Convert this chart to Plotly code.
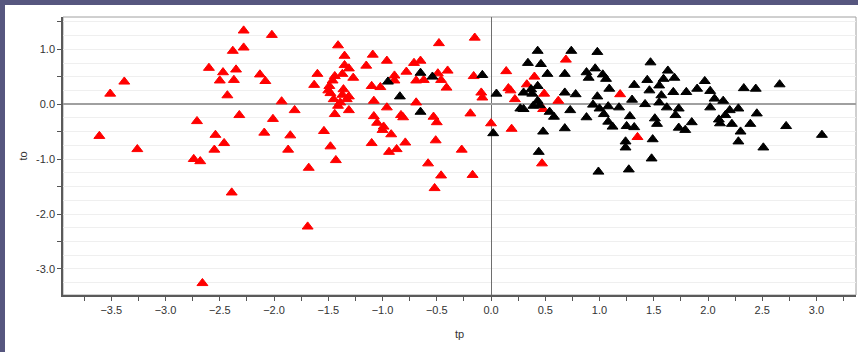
import plotly.graph_objects as go

# ---- data ----
red_x = [-3.61, -3.51, -3.38, -3.26, -2.71, -2.74, -2.68, -2.60, -2.47, -2.50,
         -2.38, -2.28, -2.28, -2.35, -2.37, -2.43, -2.32, -2.54, -2.55, -2.46,
         -2.13, -2.08, -2.02, -1.93, -1.81, -2.01, -2.09, -1.85, -1.87, -2.39,
         -2.66, -1.68, -1.69, -1.54, -1.48, -1.43, -1.10, -1.00, -0.92, -0.94,
         -0.87, -0.79, -0.58, -0.51, -0.46, -0.52, -0.27, -0.17, -1.41, -0.48,
         -1.35, -1.09, -0.96, -1.15, -1.35, -1.31, -0.71, -0.65, -1.60, -1.63,
         -1.44, -1.37, -1.27, -1.46, -1.49, -1.50, -1.48, -1.36, -1.37, -1.31,
         -1.45, -1.39, -1.33, -1.41, -1.31, -1.44, -1.10, -1.02, -0.89, -0.89,
         -0.78, -0.69, -0.62, -0.49, -0.40, -0.46, -0.41, -1.08, -0.96, -0.69,
         -1.08, -1.05, -0.99, -0.83, -0.81, -0.53, -0.50, -0.15, -0.16, -0.09,
         -0.08, -0.19, 0.00, 0.19, 0.14, 0.69, 0.16, 0.18, 0.22, 0.33,
         0.40, 0.49, 0.48, 0.62, 1.19, 1.35, 0.47]
red_y = [-0.58, 0.19, 0.41, -0.82, -0.31, -1.00, -1.04, 0.66, 0.58, 0.43,
         0.97, 1.34, 1.03, 0.63, 0.44, 0.16, -0.20, -0.56, -0.83, -0.71,
         0.54, 0.42, 1.26, 0.05, -0.11, -0.27, -0.52, -0.57, -0.83, -1.61,
         -3.26, -1.16, -2.23, -0.49, -0.77, -1.02, -0.71, -0.47, -0.55, -0.87,
         -0.82, -0.70, -1.08, -0.66, -1.30, -1.53, -0.83, -1.29, 1.07, 1.11,
         0.88, 0.90, 0.79, 0.70, 0.71, 0.65, 0.75, 0.79, 0.55, 0.35,
         0.51, 0.55, 0.48, 0.43, 0.33, 0.25, 0.20, 0.27, 0.17, 0.14,
         0.09, 0.03, 0.09, -0.03, -0.11, -0.18, 0.33, 0.31, 0.52, 0.43,
         0.59, 0.43, 0.44, 0.56, 0.61, 0.44, 0.30, 0.06, -0.06, 0.03,
         -0.22, -0.34, -0.41, -0.20, -0.24, -0.23, -0.33, 1.21, 0.51, 0.21,
         0.12, -0.17, -0.35, -0.45, 0.60, 0.81, 0.29, 0.25, 0.09, 0.36,
         0.50, 0.19, -0.09, 0.06, 0.18, -0.60, -1.08]

black_x = [-0.95, -0.65, -0.54, -0.84, -0.65, -0.08, 0.05, 0.02, 0.43, 0.74,
           0.98, 0.34, 0.46, 0.52, 0.68, 0.88, 0.96, 0.90, 1.03, 1.06,
           1.47, 0.30, 0.37, 0.38, 0.43, 0.68, 0.78, 1.09, 1.32, 1.44,
           1.46, 0.98, 1.30, 1.42, 0.27, 0.30, 0.39, 0.43, 0.45, 0.54,
           0.58, 0.73, 0.94, 1.00, 1.04, 1.08, 1.18, 0.88, 1.08, 1.12,
           1.28, 1.25, 1.32, 0.68, 0.48, 1.51, 1.63, 1.69, 1.59, 1.97,
           1.90, 2.02, 2.06, 2.14, 2.33, 2.44, 2.66, 1.55, 1.68, 1.80,
           1.57, 1.55, 1.62, 1.73, 2.02, 2.20, 2.28, 1.70, 2.16, 2.45,
           1.53, 2.10, 2.11, 2.22, 2.39, 1.85, 1.73, 1.79, 2.30, 2.72,
           3.05, 1.24, 1.24, 1.49, 2.28, 2.51, 1.48, 0.99, 1.27, 0.44]
black_y = [0.41, 0.57, 0.50, 0.14, -0.14, 0.53, 0.19, -0.53, 0.97, 0.97,
           0.95, 0.75, 0.73, 0.55, 0.55, 0.58, 0.65, 0.48, 0.54, 0.46,
           0.76, 0.21, 0.27, 0.19, 0.33, 0.21, 0.18, 0.28, 0.35, 0.44,
           0.25, 0.14, 0.08, 0.00, -0.08, -0.09, -0.03, 0.06, -0.02, -0.14,
           -0.23, -0.11, -0.01, -0.08, -0.18, -0.04, -0.06, -0.24, -0.32, -0.41,
           -0.22, -0.40, -0.42, -0.44, -0.50, -0.26, 0.61, 0.48, 0.46, 0.42,
           0.28, 0.24, 0.10, 0.06, 0.29, 0.28, 0.36, 0.34, 0.22, 0.22,
           0.16, 0.03, -0.06, -0.08, -0.06, -0.11, -0.08, -0.20, -0.20, -0.17,
           -0.36, -0.28, -0.35, -0.36, -0.36, -0.33, -0.43, -0.47, -0.50, -0.40,
           -0.56, -0.68, -0.79, -0.64, -0.68, -0.79, -0.99, -1.23, -1.19, -0.87]

y_tickvals = [-3.0, -2.5, -2.0, -1.5, -1.0, -0.5, 0.0, 0.5, 1.0, 1.5]
y_ticktext = ["-3.0", "", "-2.0", "", "-1.0", "", "0.0", "", "1.0", ""]

x_title = "tp"
y_title = "to"

# ---- figure ----
W, H = 858, 352
L, R, T, B = 63, 2, 17, 57
pw, ph = W - L - R, H - T - B

font = dict(family="Liberation Sans, Arial, sans-serif", size=11, color="#333333")

fig = go.Figure()
fig.add_trace(go.Scatter(
    x=red_x, y=red_y, mode="markers", showlegend=False, hoverinfo="x+y",
    marker=dict(symbol="triangle-up", size=9.5, color="#ff0000",
                line=dict(width=1, color="#ff0000"))))
fig.add_trace(go.Scatter(
    x=black_x, y=black_y, mode="markers", showlegend=False, hoverinfo="x+y",
    marker=dict(symbol="triangle-up", size=9.5, color="#000000",
                line=dict(width=1, color="#000000"))))

fig.update_layout(
    width=W, height=H,
    margin=dict(l=L, r=R, t=T, b=B, pad=0),
    paper_bgcolor="white", plot_bgcolor="white",
    font=font,
    xaxis=dict(
        range=[-3.945, 3.364], tickmode="linear", tick0=0, dtick=0.5,
        tickformat=".1f", ticks="outside", ticklen=4, tickwidth=1, tickcolor="#555555",
        minor=dict(tickmode="linear", tick0=0, dtick=0.25, ticks="outside",
                   ticklen=4, tickwidth=1, tickcolor="#555555", showgrid=False),
        showgrid=False, showline=True, linecolor="#5a5a5a", linewidth=1.5,
        zeroline=True, zerolinecolor="#6e6e6e", zerolinewidth=1,
        title=dict(text=x_title, standoff=15, font=font),
        fixedrange=True),
    yaxis=dict(
        range=[-3.475, 1.588], tickmode="array", tickvals=y_tickvals, ticktext=y_ticktext,
        ticks="outside", ticklen=4, tickwidth=1, tickcolor="#555555",
        showgrid=True, gridcolor="#efefef", gridwidth=1,
        minor=dict(tickmode="linear", tick0=0, dtick=0.25, ticks="",
                   showgrid=True, gridcolor="#efefef", gridwidth=1),
        showline=True, linecolor="#5a5a5a", linewidth=1.5,
        zeroline=True, zerolinecolor="#a0a0a0", zerolinewidth=1.5,
        title=dict(text=y_title, standoff=6, font=font),
        fixedrange=True),
    shapes=[
        # light frame on top / right
        dict(type="rect", xref="paper", yref="paper", x0=0, x1=1, y0=0, y1=1,
             line=dict(color="#a0a0a0", width=1), layer="below"),
        # purple window border, top and left
        dict(type="rect", xref="paper", yref="paper",
             x0=-L / pw, x1=(W - L) / pw, y0=1 + (T - 5) / ph, y1=1 + T / ph,
             line=dict(width=0), fillcolor="#56567f", layer="above"),
        dict(type="rect", xref="paper", yref="paper",
             x0=-L / pw, x1=(5 - L) / pw, y0=-B / ph, y1=1 + T / ph,
             line=dict(width=0), fillcolor="#56567f", layer="above"),
    ],
)

fig.write_html(
    "out.html",
    config={"displayModeBar": False},
    post_script="document.body.style.margin='0';document.body.style.overflow='hidden';",
)
